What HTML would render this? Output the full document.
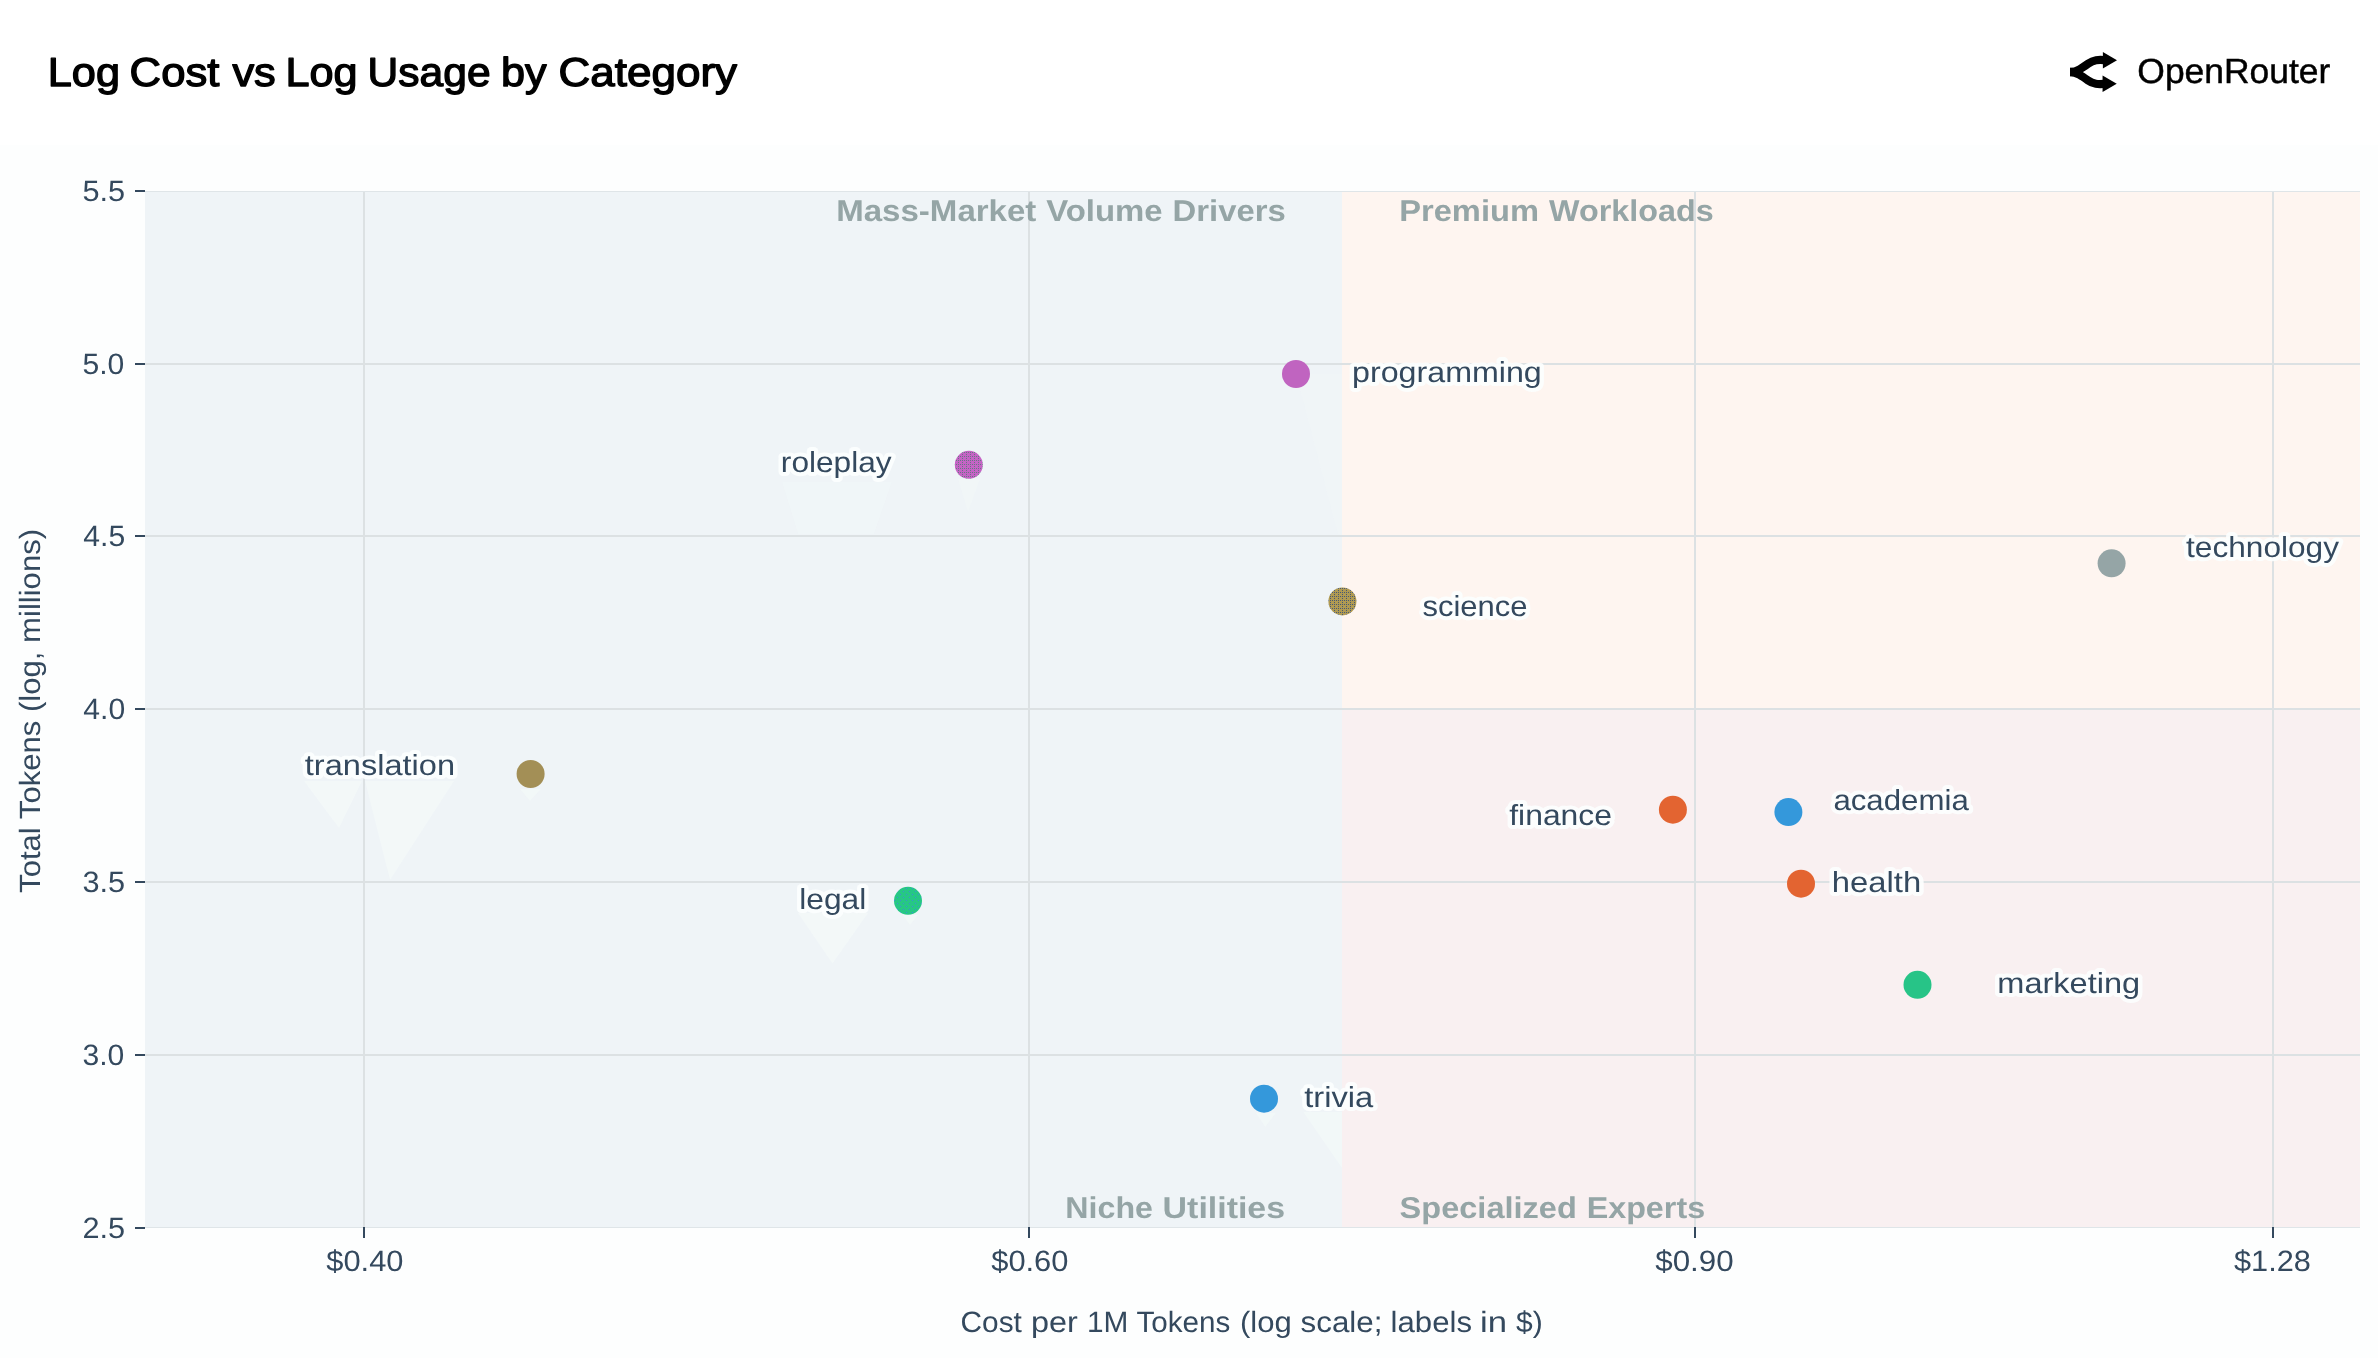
<!DOCTYPE html>
<html><head><meta charset="utf-8"><title>Log Cost vs Log Usage by Category</title>
<style>
html,body{margin:0;padding:0;background:#ffffff;}
body{width:2378px;height:1358px;overflow:hidden;position:relative;font-family:"Liberation Sans", sans-serif;}
svg{position:absolute;left:0;top:0;display:block;will-change:transform;}
text{font-family:"Liberation Sans", sans-serif;text-rendering:geometricPrecision;}
.halo{paint-order:stroke fill;stroke:#fcfefe;stroke-width:8px;stroke-linejoin:round;stroke-opacity:0.92;}
</style></head><body>
<svg width="2378" height="1358" viewBox="0 0 2378 1358">

<rect x="0" y="0" width="2378" height="1358" fill="#ffffff"/>
<rect x="0" y="145" width="2378" height="1213" fill="#fdfefe"/>
<rect x="145" y="192" width="1197" height="1035" fill="#eff4f7"/>
<polygon points="304,781 362,781 339,828" fill="#f5fbfa" fill-opacity="0.55"/>
<polygon points="365,781 454,781 390,880" fill="#f5fbfa" fill-opacity="0.55"/>
<polygon points="520,789 541,789 530,801" fill="#f5fbfa" fill-opacity="0.5"/>
<polygon points="798,913 868,913 832.5,963.5" fill="#f5fbfa" fill-opacity="0.55"/>
<polygon points="902.5,915 918,915 910,925" fill="#f5fbfa" fill-opacity="0.5"/>
<polygon points="1255.6,1112.7 1276,1112.7 1265.3,1127" fill="#f5fbfa" fill-opacity="0.5"/>
<polygon points="1303.3,1112 1342,1112 1342,1168" fill="#f5fbfa" fill-opacity="0.5"/>
<polygon points="782,482 892,482 874,534 798,534" fill="#f5fbfa" fill-opacity="0.25"/>
<polygon points="958,479 980,479 968,512" fill="#f5fbfa" fill-opacity="0.3"/>
<polygon points="1296,374 1342,374 1342,536 1337.6,534" fill="#f5fbfa" fill-opacity="0.18"/>
<rect x="1342" y="192" width="1018" height="517" fill="#fef5f0"/>
<rect x="1342" y="709" width="1018" height="518" fill="#f9f0f1"/>
<rect x="145" y="363" width="2215" height="2" fill="#dce1e3"/>
<rect x="145" y="535" width="2215" height="2" fill="#dce1e3"/>
<rect x="145" y="708" width="2215" height="2" fill="#dce1e3"/>
<rect x="145" y="881" width="2215" height="2" fill="#dce1e3"/>
<rect x="145" y="1054" width="2215" height="2" fill="#dce1e3"/>
<rect x="363" y="192" width="2" height="1035" fill="#dce1e3"/>
<rect x="1028" y="192" width="2" height="1035" fill="#dce1e3"/>
<rect x="1694" y="192" width="2" height="1035" fill="#dce1e3"/>
<rect x="2272" y="192" width="2" height="1035" fill="#dce1e3"/>
<rect x="145" y="191" width="2215" height="1" fill="#dfe5e8"/>
<rect x="145" y="1227" width="2215" height="1" fill="#dfe5e8"/>
<text x="836.2" y="220.8" font-size="30" font-weight="bold" fill="#95a5a6" text-anchor="start" textLength="200.2" lengthAdjust="spacingAndGlyphs" >Mass-Market</text>
<text x="1046.2" y="220.8" font-size="30" font-weight="bold" fill="#95a5a6" text-anchor="start" textLength="116.5" lengthAdjust="spacingAndGlyphs" >Volume</text>
<text x="1172.6" y="220.8" font-size="30" font-weight="bold" fill="#95a5a6" text-anchor="start" textLength="113.2" lengthAdjust="spacingAndGlyphs" >Drivers</text>
<text x="1399.2" y="220.8" font-size="30" font-weight="bold" fill="#95a5a6" text-anchor="start" textLength="139.8" lengthAdjust="spacingAndGlyphs" >Premium</text>
<text x="1549.0" y="220.8" font-size="30" font-weight="bold" fill="#95a5a6" text-anchor="start" textLength="164.6" lengthAdjust="spacingAndGlyphs" >Workloads</text>
<text x="1065.3" y="1218.0" font-size="30" font-weight="bold" fill="#95a5a6" text-anchor="start" textLength="87.7" lengthAdjust="spacingAndGlyphs" >Niche</text>
<text x="1162.6" y="1218.0" font-size="30" font-weight="bold" fill="#95a5a6" text-anchor="start" textLength="122.5" lengthAdjust="spacingAndGlyphs" >Utilities</text>
<text x="1399.6" y="1218.0" font-size="30" font-weight="bold" fill="#95a5a6" text-anchor="start" textLength="177.2" lengthAdjust="spacingAndGlyphs" >Specialized</text>
<text x="1586.7" y="1218.0" font-size="30" font-weight="bold" fill="#95a5a6" text-anchor="start" textLength="118.4" lengthAdjust="spacingAndGlyphs" >Experts</text>
<rect x="135" y="190" width="10" height="2" fill="#34495e"/>
<text x="82.5" y="201.3" font-size="29.4" font-weight="normal" fill="#34495e" text-anchor="start" textLength="42.64" lengthAdjust="spacingAndGlyphs" >5.5</text>
<rect x="135" y="363" width="10" height="2" fill="#34495e"/>
<text x="82.5" y="374.3" font-size="29.4" font-weight="normal" fill="#34495e" text-anchor="start" textLength="41.84" lengthAdjust="spacingAndGlyphs" >5.0</text>
<rect x="135" y="535" width="10" height="2" fill="#34495e"/>
<text x="83.3" y="546.3" font-size="29.4" font-weight="normal" fill="#34495e" text-anchor="start" textLength="41.84" lengthAdjust="spacingAndGlyphs" >4.5</text>
<rect x="135" y="708" width="10" height="2" fill="#34495e"/>
<text x="83.3" y="719.3" font-size="29.4" font-weight="normal" fill="#34495e" text-anchor="start" textLength="41.84" lengthAdjust="spacingAndGlyphs" >4.0</text>
<rect x="135" y="881" width="10" height="2" fill="#34495e"/>
<text x="82.5" y="892.3" font-size="29.4" font-weight="normal" fill="#34495e" text-anchor="start" textLength="42.64" lengthAdjust="spacingAndGlyphs" >3.5</text>
<rect x="135" y="1054" width="10" height="2" fill="#34495e"/>
<text x="82.5" y="1065.3" font-size="29.4" font-weight="normal" fill="#34495e" text-anchor="start" textLength="41.84" lengthAdjust="spacingAndGlyphs" >3.0</text>
<rect x="135" y="1227" width="10" height="2" fill="#34495e"/>
<text x="82.5" y="1238.3" font-size="29.4" font-weight="normal" fill="#34495e" text-anchor="start" textLength="42.64" lengthAdjust="spacingAndGlyphs" >2.5</text>
<rect x="363" y="1227" width="2" height="11" fill="#34495e"/>
<text x="326.28" y="1270.8" font-size="29.4" font-weight="normal" fill="#34495e" text-anchor="start" textLength="77.2" lengthAdjust="spacingAndGlyphs" >$0.40</text>
<rect x="1028" y="1227" width="2" height="11" fill="#34495e"/>
<text x="991.24" y="1270.8" font-size="29.4" font-weight="normal" fill="#34495e" text-anchor="start" textLength="77.2" lengthAdjust="spacingAndGlyphs" >$0.60</text>
<rect x="1694" y="1227" width="2" height="11" fill="#34495e"/>
<text x="1655.24" y="1270.8" font-size="29.4" font-weight="normal" fill="#34495e" text-anchor="start" textLength="78.48" lengthAdjust="spacingAndGlyphs" >$0.90</text>
<rect x="2272" y="1227" width="2" height="11" fill="#34495e"/>
<text x="2234.04" y="1270.8" font-size="29.4" font-weight="normal" fill="#34495e" text-anchor="start" textLength="76.88" lengthAdjust="spacingAndGlyphs" >$1.28</text>
<text x="960.6" y="1331.6" font-size="29.3" font-weight="normal" fill="#34495e" text-anchor="start" textLength="61.3" lengthAdjust="spacingAndGlyphs" >Cost</text>
<text x="1031.0" y="1331.6" font-size="29.3" font-weight="normal" fill="#34495e" text-anchor="start" textLength="46.8" lengthAdjust="spacingAndGlyphs" >per</text>
<text x="1086.9" y="1331.6" font-size="29.3" font-weight="normal" fill="#34495e" text-anchor="start" textLength="41.4" lengthAdjust="spacingAndGlyphs" >1M</text>
<text x="1136.5" y="1331.6" font-size="29.3" font-weight="normal" fill="#34495e" text-anchor="start" textLength="93.8" lengthAdjust="spacingAndGlyphs" >Tokens</text>
<text x="1240.0" y="1331.6" font-size="29.3" font-weight="normal" fill="#34495e" text-anchor="start" textLength="51.8" lengthAdjust="spacingAndGlyphs" >(log</text>
<text x="1300.6" y="1331.6" font-size="29.3" font-weight="normal" fill="#34495e" text-anchor="start" textLength="81.9" lengthAdjust="spacingAndGlyphs" >scale;</text>
<text x="1390.6" y="1331.6" font-size="29.3" font-weight="normal" fill="#34495e" text-anchor="start" textLength="81.4" lengthAdjust="spacingAndGlyphs" >labels</text>
<text x="1480.0" y="1331.6" font-size="29.3" font-weight="normal" fill="#34495e" text-anchor="start" textLength="27.0" lengthAdjust="spacingAndGlyphs" >in</text>
<text x="1516.1" y="1331.6" font-size="29.3" font-weight="normal" fill="#34495e" text-anchor="start" textLength="26.7" lengthAdjust="spacingAndGlyphs" >$)</text>
<text x="0" y="0" font-size="29.3" fill="#34495e" textLength="364" lengthAdjust="spacingAndGlyphs" transform="translate(40.2,892.9) rotate(-90)">Total Tokens (log, millions)</text>
<defs><pattern id="psci" x="0" y="0" width="4" height="4" patternUnits="userSpaceOnUse"><rect width="4" height="4" fill="#b09a52"/><rect x="0" y="0" width="1" height="1" fill="#485a72"/><rect x="2" y="2" width="1" height="1" fill="#485a72"/><rect x="2" y="0" width="1" height="1" fill="#485a72"/></pattern><pattern id="prole" x="0" y="0" width="4" height="4" patternUnits="userSpaceOnUse"><rect width="4" height="4" fill="#c563c5"/><rect x="0" y="0" width="1" height="1" fill="#6a7486"/><rect x="2" y="2" width="1" height="1" fill="#6a7486"/><rect x="2" y="0" width="1" height="1" fill="#6a7486"/></pattern><pattern id="plegal" x="0" y="0" width="6" height="6" patternUnits="userSpaceOnUse"><rect width="6" height="6" fill="#26c785"/><rect x="0" y="0" width="1" height="1" fill="#3a8fd8"/><rect x="3" y="3" width="1" height="1" fill="#3a8fd8"/></pattern></defs>
<circle cx="1296.0" cy="374.0" r="14" fill="#c064c0"/>
<circle cx="968.8" cy="464.8" r="14" fill="url(#prole)"/>
<circle cx="1342.4" cy="601.4" r="14" fill="url(#psci)"/>
<circle cx="2111.6" cy="563.3" r="14" fill="#95a5a6"/>
<circle cx="530.6" cy="774.0" r="14" fill="#a38f56"/>
<circle cx="1672.9" cy="809.7" r="14" fill="#e36431"/>
<circle cx="1788.4" cy="812.1" r="14" fill="#3498db"/>
<circle cx="1801.0" cy="883.7" r="14" fill="#e36431"/>
<circle cx="908.0" cy="900.8" r="14" fill="url(#plegal)"/>
<circle cx="1917.5" cy="984.8" r="14" fill="#27c487"/>
<circle cx="1264.0" cy="1098.7" r="14" fill="#3498db"/>
<text x="1352.1" y="381.5" font-size="29" font-weight="normal" fill="#34495e" text-anchor="start" textLength="189.66" lengthAdjust="spacingAndGlyphs" class="halo" >programming</text>
<text x="780.86" y="472.4" font-size="29" font-weight="normal" fill="#34495e" text-anchor="start" textLength="110.78" lengthAdjust="spacingAndGlyphs" class="halo" >roleplay</text>
<text x="1422.56" y="616.3" font-size="29" font-weight="normal" fill="#34495e" text-anchor="start" textLength="104.92" lengthAdjust="spacingAndGlyphs" class="halo" >science</text>
<text x="2186.08" y="557.3" font-size="29" font-weight="normal" fill="#34495e" text-anchor="start" textLength="152.94" lengthAdjust="spacingAndGlyphs" class="halo" >technology</text>
<text x="304.84" y="775.2" font-size="29" font-weight="normal" fill="#34495e" text-anchor="start" textLength="150.2" lengthAdjust="spacingAndGlyphs" class="halo" >translation</text>
<text x="1509.22" y="824.8" font-size="29" font-weight="normal" fill="#34495e" text-anchor="start" textLength="102.78" lengthAdjust="spacingAndGlyphs" class="halo" >finance</text>
<text x="1833.42" y="810.3" font-size="29" font-weight="normal" fill="#34495e" text-anchor="start" textLength="135.36" lengthAdjust="spacingAndGlyphs" class="halo" >academia</text>
<text x="1831.86" y="892.0" font-size="29" font-weight="normal" fill="#34495e" text-anchor="start" textLength="89.28" lengthAdjust="spacingAndGlyphs" class="halo" >health</text>
<text x="799.24" y="908.9" font-size="29" font-weight="normal" fill="#34495e" text-anchor="start" textLength="67.04" lengthAdjust="spacingAndGlyphs" class="halo" >legal</text>
<text x="1997.34" y="993.3" font-size="29" font-weight="normal" fill="#34495e" text-anchor="start" textLength="142.84" lengthAdjust="spacingAndGlyphs" class="halo" >marketing</text>
<text x="1304.22" y="1106.7" font-size="29" font-weight="normal" fill="#34495e" text-anchor="start" textLength="69.04" lengthAdjust="spacingAndGlyphs" class="halo" >trivia</text>
<text x="47.8" y="85.5" font-size="40.4" font-weight="normal" fill="#000000" text-anchor="start" textLength="72.2" lengthAdjust="spacingAndGlyphs" stroke="#000000" stroke-width="1.3" stroke-linejoin="round">Log</text>
<text x="129.6" y="85.5" font-size="40.4" font-weight="normal" fill="#000000" text-anchor="start" textLength="89.8" lengthAdjust="spacingAndGlyphs" stroke="#000000" stroke-width="1.3" stroke-linejoin="round">Cost</text>
<text x="232.4" y="85.5" font-size="40.4" font-weight="normal" fill="#000000" text-anchor="start" textLength="43.4" lengthAdjust="spacingAndGlyphs" stroke="#000000" stroke-width="1.3" stroke-linejoin="round">vs</text>
<text x="285.5" y="85.5" font-size="40.4" font-weight="normal" fill="#000000" text-anchor="start" textLength="72.1" lengthAdjust="spacingAndGlyphs" stroke="#000000" stroke-width="1.3" stroke-linejoin="round">Log</text>
<text x="367.6" y="85.5" font-size="40.4" font-weight="normal" fill="#000000" text-anchor="start" textLength="123.0" lengthAdjust="spacingAndGlyphs" stroke="#000000" stroke-width="1.3" stroke-linejoin="round">Usage</text>
<text x="501.0" y="85.5" font-size="40.4" font-weight="normal" fill="#000000" text-anchor="start" textLength="45.6" lengthAdjust="spacingAndGlyphs" stroke="#000000" stroke-width="1.3" stroke-linejoin="round">by</text>
<text x="558.5" y="85.5" font-size="40.4" font-weight="normal" fill="#000000" text-anchor="start" textLength="178.6" lengthAdjust="spacingAndGlyphs" stroke="#000000" stroke-width="1.3" stroke-linejoin="round">Category</text>
<g transform="translate(2070,49.1) scale(0.092)" fill="#000000" stroke="#000000"><path d="M3 248.945C18 248.945 76 236 106 219C136 202 136 202 198 158C276.497 102.293 332 120.945 423 120.945" stroke-width="90" fill="none"/><path d="M511 121.5L357.25 210.268L357.25 32.7324L511 121.5Z" stroke="none"/><path d="M0 249C15 249 73 261.945 103 278.945C133 295.945 133 295.945 195 339.945C273.497 395.652 329 377 420 377" stroke-width="90" fill="none"/><path d="M508 376.445L354.25 287.678L354.25 465.213L508 376.445Z" stroke="none"/></g>
<text x="2137.34" y="83.1" font-size="34.9" font-weight="normal" fill="#000000" text-anchor="start" textLength="192.96" lengthAdjust="spacingAndGlyphs" stroke="#000000" stroke-width="0.45">OpenRouter</text>
</svg></body></html>
